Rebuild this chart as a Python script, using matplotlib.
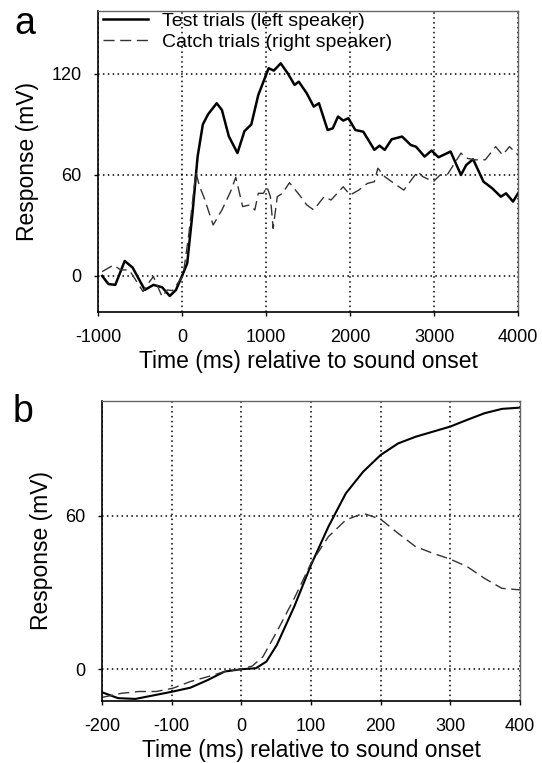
import matplotlib
matplotlib.use('Agg')
import matplotlib.pyplot as plt

plt.rcParams['font.family'] = ['Liberation Sans', 'DejaVu Sans']
plt.rcParams['axes.unicode_minus'] = False

# panel a: whole trial
a_test_t = [-950, -876, -794, -682, -588, -443, -340, -237, -146, -72, 0, 62, 124, 186,
            248, 310, 413, 475, 557, 660, 743, 825, 908, 1031, 1093, 1175, 1258, 1340,
            1390, 1485, 1568, 1630, 1733, 1795, 1857, 1919, 1980, 2063, 2158, 2290,
            2351, 2413, 2496, 2620, 2723, 2785, 2888, 2970, 3053, 3197, 3259, 3321,
            3383, 3465, 3589, 3692, 3795, 3857, 3940, 4000]
a_test_v = [0, -4.8, -5.3, 8.9, 5, -8.3, -5.3, -6.7, -11.9, -8.3, 0, 7.5, 37, 71,
            90, 96, 102.6, 98.6, 83, 73, 86, 90, 107.5, 123.4, 122, 126.3, 120.4, 113.5,
            115.4, 108.5, 100.6, 102.6, 86.7, 87.7, 94.7, 92.3, 93.7, 86.7, 85.7, 74.9,
            77.4, 74.9, 81.2, 82.8, 77.8, 76.8, 70.9, 74.5, 70.5, 73.9, 66.9, 60,
            65.9, 69.3, 56, 52.1, 47.1, 49.1, 44.2, 49.1]

a_catch_t = [-950, -814, -732, -629, -526, -464, -402, -340, -237, -175, -113, -52, 12,
             82, 165, 206, 268, 371, 475, 578, 640, 722, 805, 867, 908, 970, 1011,
             1052, 1085, 1134, 1196, 1279, 1382, 1485, 1568, 1630, 1692, 1774, 1919,
             2001, 2104, 2207, 2290, 2331, 2413, 2496, 2640, 2805, 2867, 2991, 3073,
             3156, 3321, 3383, 3486, 3610, 3733, 3816, 3898, 4000]
a_catch_v = [2.6, 6.5, 3.6, 3.6, -4.4, -9.3, -4.4, -0.4, -12.3, -8.3, -8.7, -4.4, 0,
             25, 61.6, 53.7, 45.8, 30.3, 39.2, 50.1, 58.6, 41.2, 42.2, 39.2, 49.1, 49.1, 53,
             47.1, 28.3, 47.1, 49.1, 55.4, 49.1, 42.2, 39.2, 43.2, 47.1, 45.1, 53,
             48.1, 51, 55, 56, 64, 59, 56, 51, 62, 59, 56, 60,
             60, 73, 70, 69, 69, 76.8, 71.9, 76.8, 71.9]

# panel b: around sound onset
b_t = [-200, -177, -152, -122, -98, -73, -48, -24, 0, 21, 36, 51, 76, 100, 125, 150,
       175, 200, 225, 250, 275, 300, 324, 349, 374, 400]
b_test = [-9, -11.3, -11.6, -10, -8.7, -7.2, -4.2, -0.9, 0, 0.4, 3, 9.5, 24.5, 40.7,
          55.7, 68.7, 77.2, 83.7, 88.2, 90.8, 92.8, 94.8, 97.4, 100, 101.7, 102.2]
b_catch_t = [-200, -172, -147, -122, -98, -73, -48, -24, 0, 16, 31, 51, 76, 100, 125,
             150, 175, 200, 225, 250, 275, 300, 324, 349, 374, 400]
b_catch = [-11, -9.4, -8.7, -8.7, -7.4, -4.8, -2.9, -0.9, 0, 1.3, 4.9, 14.7, 27.7, 41.4,
           51.8, 58.3, 60.9, 58.6, 53.1, 47.9, 45.3, 43, 40.1, 35.5, 31.6, 31]

fig = plt.figure(figsize=(5.42, 7.63), dpi=100)
ax1 = fig.add_axes([0.1808, 0.5911, 0.775, 0.3945])
ax2 = fig.add_axes([0.1882, 0.0813, 0.7712, 0.3932])

def style(ax):
    ax.grid(True, linestyle=(0, (1, 2.2)), color='black', linewidth=1.1)
    ax.set_axisbelow(True)
    for s in ['top', 'right']:
        ax.spines[s].set_color('#666666')
        ax.spines[s].set_linewidth(1.0)
    for s in ['left', 'bottom']:
        ax.spines[s].set_color('black')
        ax.spines[s].set_linewidth(1.2)
    ax.tick_params(direction='out', length=3, width=1, labelsize=13)
    ax.tick_params(axis='x', pad=9)
    ax.tick_params(axis='y', pad=9)
    ax.set_xlabel('Time (ms) relative to sound onset', fontsize=16.5, labelpad=3)
    ax.set_ylabel('Response (mV)', fontsize=16.5, labelpad=9)

ax1.plot(a_test_t, a_test_v, color='black', linewidth=1.8, label='Test trials (left speaker)')
ax1.plot(a_catch_t, a_catch_v, color='#333333', linewidth=1.0, dashes=(8, 4),
         label='Catch trials (right speaker)')
ax1.set_xlim(-1000, 4000)
ax1.set_ylim(-21.4, 157.4)
ax1.set_xticks([-1000, 0, 1000, 2000, 3000, 4000])
ax1.set_yticks([0, 60, 120])
style(ax1)
ax1.legend(loc='upper left', frameon=False, fontsize=14, handlelength=2.3,
           handletextpad=0.75, borderaxespad=0.0, borderpad=0.0, labelspacing=0.15,
           bbox_to_anchor=(0.012, 0.995))

ax2.plot(b_t, b_test, color='black', linewidth=1.5)
ax2.plot(b_catch_t, b_catch, color='#333333', linewidth=1.0, dashes=(8, 4))
ax2.set_xlim(-200, 400)
ax2.set_ylim(-12.4, 104.8)
ax2.set_xticks([-200, -100, 0, 100, 200, 300, 400])
ax2.set_yticks([0, 60])
style(ax2)

fig.text(0.026, 0.955, 'a', fontsize=27)
fig.text(0.024, 0.447, 'b', fontsize=27)

fig.savefig('out.png', dpi=100)
